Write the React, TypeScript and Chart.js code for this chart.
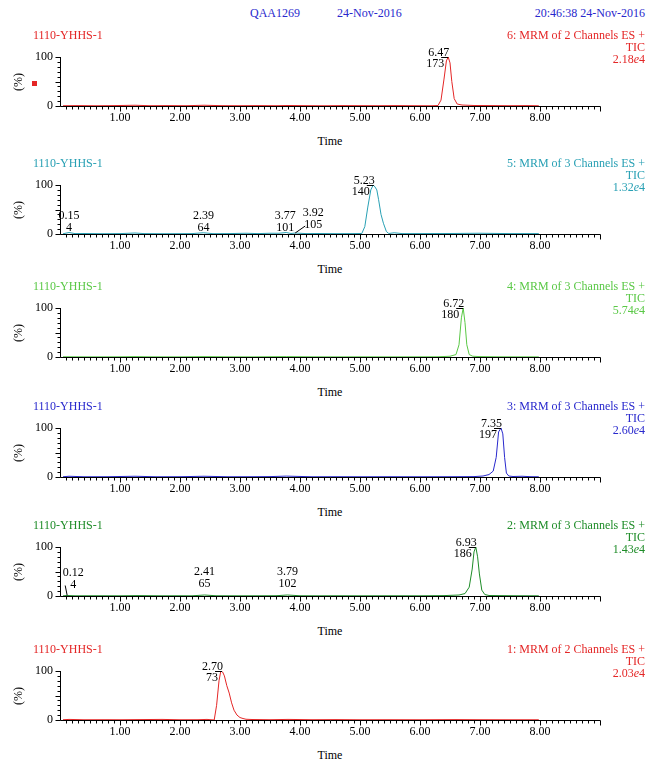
import React, { useEffect, useRef } from "react";
import { Chart, registerables } from "chart.js";

Chart.register(...registerables);

// ---------- data ----------
const X_TICK_VALUES = [1, 2, 3, 4, 5, 6, 7, 8];
const sampleName = "1110-YHHS-1";
const headerTexts = ["QAA1269", "24-Nov-2016", "20:46:38 24-Nov-2016"];

const channelNames = [
  "6: MRM of 2 Channels ES +",
  "5: MRM of 3 Channels ES +",
  "4: MRM of 3 Channels ES +",
  "3: MRM of 3 Channels ES +",
  "2: MRM of 3 Channels ES +",
  "1: MRM of 2 Channels ES +",
];
const ticLabel = "TIC";
const intensityMantissa = ["2.18", "1.32", "5.74", "2.60", "1.43", "2.03"];
const intensityExp = "4";

// channel 6
const ch6Time = [0.05, 0.3, 0.6, 0.9, 1.25, 1.5, 1.8, 2.1, 2.4, 2.7, 3.0, 3.3, 3.6, 3.8, 4.1, 4.4, 4.7, 5.0, 5.3, 5.6, 5.9, 6.2, 6.3, 6.35, 6.4, 6.44, 6.47, 6.5, 6.53, 6.57, 6.62, 6.7, 6.9, 7.2, 7.5, 7.8, 7.98];
const ch6Pct = [0.5, 0.8, 0.5, 0.8, 1.5, 0.6, 0.8, 0.6, 1.5, 0.7, 0.6, 0.8, 0.6, 1.0, 0.7, 0.5, 0.8, 0.7, 0.6, 0.8, 0.6, 0.5, 1, 12, 55, 92, 100, 88, 50, 15, 4, 2, 1, 0.8, 0.6, 0.8, 0.5];

// channel 5
const ch5Time = [0.05, 0.15, 0.25, 0.4, 0.7, 1.0, 1.25, 1.4, 1.7, 2.0, 2.2, 2.39, 2.55, 2.8, 3.1, 3.3, 3.5, 3.65, 3.77, 3.85, 3.92, 4.1, 4.3, 4.6, 4.9, 5.03, 5.08, 5.13, 5.18, 5.22, 5.25, 5.28, 5.31, 5.35, 5.39, 5.44, 5.48, 5.57, 5.7, 6.0, 6.5, 7.0, 7.5, 7.98];
const ch5Pct = [0.5, 3, 0.8, 1, 0.6, 0.8, 2, 0.8, 0.6, 0.7, 0.8, 2.5, 0.7, 0.8, 1.5, 0.8, 1.5, 1.5, 3, 1, 2, 0.8, 1, 0.7, 0.8, 1, 15, 55, 90, 100, 96, 90, 70, 40, 22, 5, 1, 2.5, 0.8, 0.8, 1, 1.5, 0.8, 0.8];

// channel 4
const ch4Time = [0.05, 0.5, 1.0, 1.25, 1.5, 2.0, 2.4, 2.8, 3.2, 3.77, 4.2, 4.6, 5.0, 5.5, 6.0, 6.3, 6.5, 6.6, 6.65, 6.69, 6.72, 6.75, 6.78, 6.82, 6.88, 7.0, 7.3, 7.6, 7.98];
const ch4Pct = [0.5, 0.3, 0.4, 0.8, 0.4, 0.3, 0.8, 0.4, 0.3, 0.8, 0.4, 0.3, 0.4, 0.3, 0.4, 0.5, 1.5, 5, 25, 80, 100, 70, 25, 5, 1.5, 0.8, 0.4, 0.3, 0.3];

// channel 3
const ch3Time = [0.05, 0.15, 0.4, 0.8, 1.25, 1.6, 2.0, 2.4, 2.8, 3.2, 3.5, 3.77, 4.2, 4.6, 5.0, 5.5, 6.0, 6.5, 6.9, 7.05, 7.15, 7.22, 7.27, 7.31, 7.35, 7.38, 7.41, 7.44, 7.48, 7.55, 7.7, 7.85, 7.98];
const ch3Pct = [0.5, 1.5, 0.5, 0.6, 1.5, 0.5, 0.6, 1.5, 0.5, 0.6, 0.8, 1.8, 0.5, 0.6, 0.5, 0.6, 0.5, 0.6, 0.8, 2, 5, 12, 40, 92, 100, 88, 40, 8, 2, 1, 1.5, 0.6, 0.5];

// channel 2
const ch2Time = [0.05, 0.12, 0.25, 0.6, 1.0, 1.3, 1.7, 2.0, 2.2, 2.41, 2.6, 3.0, 3.4, 3.6, 3.79, 4.0, 4.3, 4.6, 5.0, 5.5, 6.0, 6.4, 6.65, 6.75, 6.82, 6.87, 6.9, 6.93, 6.96, 6.99, 7.03, 7.08, 7.15, 7.3, 7.6, 7.98];
const ch2Pct = [0.3, 1, 0.4, 0.5, 0.4, 0.8, 0.4, 0.5, 0.4, 2, 0.5, 0.4, 0.5, 0.6, 2, 0.5, 0.4, 0.5, 0.4, 0.5, 0.4, 0.8, 2, 5, 18, 55, 90, 100, 80, 45, 12, 3, 1, 0.8, 0.5, 0.4];

// channel 1
const ch1Time = [0.05, 0.15, 0.4, 0.8, 1.0, 1.3, 1.7, 2.0, 2.3, 2.45, 2.57, 2.61, 2.65, 2.68, 2.71, 2.74, 2.78, 2.82, 2.86, 2.9, 2.95, 3.0, 3.05, 3.1, 3.2, 3.5, 3.8, 4.2, 4.6, 5.0, 5.5, 6.0, 6.6, 7.0, 7.5, 7.98];
const ch1Pct = [0.5, 1.2, 0.5, 0.6, 0.5, 0.8, 1.2, 0.5, 0.6, 1.2, 0, 30, 80, 100, 98, 90, 70, 55, 35, 20, 10, 5, 3, 1.5, 1, 0.6, 1.2, 0.6, 0.8, 0.5, 0.6, 0.5, 0.8, 0.6, 0.5, 0.5];

// peak annotations: retention time, height (%), scan number
const ch6PeakTimes = [6.47];
const ch6PeakHeights = [100];
const ch6PeakScans = ["173"];

const ch5PeakTimes = [5.23, 0.15, 2.39, 3.77, 3.92];
const ch5PeakHeights = [100, 3, 2.5, 3, 2];
const ch5PeakScans = ["140", "4", "64", "101", "105"];

const ch4PeakTimes = [6.72];
const ch4PeakHeights = [100];
const ch4PeakScans = ["180"];

const ch3PeakTimes = [7.35];
const ch3PeakHeights = [100];
const ch3PeakScans = ["197"];

const ch2PeakTimes = [6.93, 0.12, 2.41, 3.79];
const ch2PeakHeights = [100, 1, 2, 2];
const ch2PeakScans = ["186", "4", "65", "102"];

const ch1PeakTimes = [2.70];
const ch1PeakHeights = [100];
const ch1PeakScans = ["73"];

// ---------- styles ----------
const FONT = '"Liberation Serif", "Times New Roman", serif';
const HEADER_BLUE = "rgb(40,40,205)";
const panelColors = [
  "rgb(228,38,38)",
  "rgb(40,160,180)",
  "rgb(90,200,70)",
  "rgb(40,40,205)",
  "rgb(30,140,40)",
  "rgb(228,38,38)",
];
// label placement style per annotation: main = labels left of apex; else centered above with offsets
const ch6LabelStyle = [{ main: true }];
const ch5LabelStyle = [{ main: true }, { dx: 0, dy: 2 }, { dx: 0, dy: 2 }, { dx: -1, dy: 2 }, { dx: 18, dy: 5, leader: true }];
const ch4LabelStyle = [{ main: true }];
const ch3LabelStyle = [{ main: true }];
const ch2LabelStyle = [{ main: true }, { dx: 6, dy: 8, leader: true }, { dx: 0, dy: 8 }, { dx: 0, dy: 8 }];
const ch1LabelStyle = [{ main: true }];

// pixel row of each panel's zero line (layout)
const PANEL_AXIS_Y = [106, 234, 357, 477, 596, 720];
const PLOT_LEFT = 60;
const PLOT_RIGHT = 600;

const panels = [
  { t: ch6Time, v: ch6Pct, pt: ch6PeakTimes, ph: ch6PeakHeights, ps: ch6PeakScans, st: ch6LabelStyle },
  { t: ch5Time, v: ch5Pct, pt: ch5PeakTimes, ph: ch5PeakHeights, ps: ch5PeakScans, st: ch5LabelStyle },
  { t: ch4Time, v: ch4Pct, pt: ch4PeakTimes, ph: ch4PeakHeights, ps: ch4PeakScans, st: ch4LabelStyle },
  { t: ch3Time, v: ch3Pct, pt: ch3PeakTimes, ph: ch3PeakHeights, ps: ch3PeakScans, st: ch3LabelStyle },
  { t: ch2Time, v: ch2Pct, pt: ch2PeakTimes, ph: ch2PeakHeights, ps: ch2PeakScans, st: ch2LabelStyle },
  { t: ch1Time, v: ch1Pct, pt: ch1PeakTimes, ph: ch1PeakHeights, ps: ch1PeakScans, st: ch1LabelStyle },
];

const axesPlugin = {
  id: "msAxes",
  afterDraw(chart: any) {
    const { ctx, scales } = chart;
    const x = scales.x;
    const y = scales.y;
    const y0 = Math.round(y.getPixelForValue(0)) + 0.5;
    const x0 = Math.round(x.getPixelForValue(0)) + 0.5;
    ctx.save();
    ctx.strokeStyle = "#000";
    ctx.lineWidth = 1;
    ctx.beginPath();
    ctx.moveTo(x0, y0);
    ctx.lineTo(Math.round(x.getPixelForValue(x.max)) + 0.5, y0);
    ctx.moveTo(x0, y0);
    ctx.lineTo(x0, Math.round(y.getPixelForValue(100)));
    for (let k = 1; k <= Math.round(x.max * 10); k++) {
      const px = Math.round(x.getPixelForValue(k / 10)) + 0.5;
      const len = k % 10 === 0 ? 5 : 3;
      ctx.moveTo(px, y0);
      ctx.lineTo(px, y0 + len);
    }
    for (let k = 0; k <= 10; k++) {
      const py = Math.round(y.getPixelForValue(k * 10)) + 0.5;
      const len = k % 5 === 0 ? 5 : 3;
      ctx.moveTo(x0, py);
      ctx.lineTo(x0 - len, py);
    }
    ctx.stroke();
    ctx.restore();
  },
};

const peakPlugin = {
  id: "peakLabels",
  afterDatasetsDraw(chart: any, _args: any, opts: any) {
    const { ctx, scales } = chart;
    const x = scales.x;
    const y = scales.y;
    const items = opts.items || [];
    ctx.save();
    ctx.font = `12px ${FONT}`;
    ctx.fillStyle = "#000";
    ctx.strokeStyle = "#000";
    ctx.lineWidth = 1;
    items.forEach((p: any) => {
      const px = x.getPixelForValue(p.t);
      const py = y.getPixelForValue(p.h);
      const rt = p.t.toFixed(2);
      if (p.style.main) {
        ctx.textAlign = "right";
        ctx.textBaseline = "alphabetic";
        ctx.fillText(rt, px + 1, py - 1);
        ctx.textBaseline = "top";
        ctx.fillText(p.scan, px - 4, py + 1);
        ctx.beginPath();
        ctx.moveTo(px - 7, Math.round(py) + 0.5);
        ctx.lineTo(px, Math.round(py) + 0.5);
        ctx.stroke();
      } else {
        const cx = px + p.style.dx;
        const base = py - p.style.dy;
        ctx.textAlign = "center";
        ctx.textBaseline = "alphabetic";
        ctx.fillText(p.scan, cx, base);
        ctx.fillText(rt, cx, base - 12);
        if (p.style.leader) {
          ctx.beginPath();
          ctx.moveTo(px, py);
          ctx.lineTo(cx - 8, base - 2);
          ctx.stroke();
        }
      }
    });
    ctx.restore();
  },
};

function Panel({ index }: { index: number }) {
  const ref = useRef<HTMLCanvasElement | null>(null);
  const p = panels[index];
  const color = panelColors[index];
  const B = PANEL_AXIS_Y[index];
  const top = B - 71;
  const height = 93;

  useEffect(() => {
    if (!ref.current) return;
    const items = p.pt.map((t, i) => ({ t, h: p.ph[i], scan: p.ps[i], style: p.st[i] }));
    const chart = new Chart(ref.current, {
      type: "line",
      data: {
        datasets: [
          {
            data: p.t.map((t, i) => ({ x: t, y: p.v[i] })),
            borderColor: color,
            borderWidth: 1,
            pointRadius: 0,
            tension: 0,
            fill: false,
          },
        ],
      },
      options: {
        animation: false,
        responsive: false,
        devicePixelRatio: 1,
        layout: { padding: { top: 22, right: 648 - PLOT_RIGHT, left: 0, bottom: 0 } },
        plugins: {
          legend: { display: false },
          tooltip: { enabled: false },
          peakLabels: { items },
        } as any,
        scales: {
          x: {
            type: "linear",
            min: 0,
            max: 9.0,
            afterFit: (s: any) => {
              s.height = 22;
            },
            grid: { display: false, drawTicks: false },
            border: { display: false },
            ticks: {
              stepSize: 1,
              autoSkip: false,
              maxRotation: 0,
              padding: 5,
              color: "#000",
              font: { family: FONT, size: 12 },
              callback: (v: any) => (X_TICK_VALUES.includes(Number(v)) ? Number(v).toFixed(2) : ""),
            },
          },
          y: {
            min: 0,
            max: 100,
            afterFit: (s: any) => {
              s.width = PLOT_LEFT;
            },
            grid: { display: false, drawTicks: false },
            border: { display: false },
            ticks: {
              stepSize: 100,
              padding: 7,
              color: "#000",
              font: { family: FONT, size: 12 },
            },
          },
        },
      },
      plugins: [axesPlugin, peakPlugin],
    });
    return () => chart.destroy();
  }, [index]);

  const textBase: React.CSSProperties = {
    position: "absolute",
    fontFamily: FONT,
    fontSize: 12,
    lineHeight: "12px",
    whiteSpace: "nowrap",
  };

  return (
    <>
      <canvas
        ref={ref}
        width={648}
        height={height}
        style={{ position: "absolute", left: 0, top, width: 648, height }}
      />
      <div style={{ ...textBase, left: 33, top: B - 77, color }}>{sampleName}</div>
      <div style={{ ...textBase, right: 3, top: B - 77, color, textAlign: "right" }}>
        {channelNames[index]}
        <br />
        {ticLabel}
        <br />
        {intensityMantissa[index]}
        <i>e</i>
        {intensityExp}
      </div>
      <div
        style={{
          ...textBase,
          left: 18,
          top: B - 24,
          transform: "translate(-50%, -50%) rotate(-90deg)",
          color: "#000",
        }}
      >
        (%)
      </div>
      {index === 0 && (
        <div
          style={{
            position: "absolute",
            left: 32,
            top: B - 25,
            width: 5,
            height: 5,
            background: color,
          }}
        />
      )}
      <div
        style={{
          ...textBase,
          left: (PLOT_LEFT + PLOT_RIGHT) / 2,
          top: B + 35,
          transform: "translate(-50%, -50%)",
          color: "#000",
        }}
      >
        Time
      </div>
    </>
  );
}

export default function App() {
  const hs: React.CSSProperties = {
    position: "absolute",
    top: 7,
    fontFamily: FONT,
    fontSize: 12,
    lineHeight: "12px",
    color: HEADER_BLUE,
    whiteSpace: "nowrap",
  };
  return (
    <div style={{ position: "absolute", left: 0, top: 0, width: 648, height: 770, background: "#fff", overflow: "hidden" }}>
      <div style={{ ...hs, left: 250 }}>{headerTexts[0]}</div>
      <div style={{ ...hs, left: 337 }}>{headerTexts[1]}</div>
      <div style={{ ...hs, right: 3 }}>{headerTexts[2]}</div>
      {panels.map((_, i) => (
        <Panel key={i} index={i} />
      ))}
    </div>
  );
}
